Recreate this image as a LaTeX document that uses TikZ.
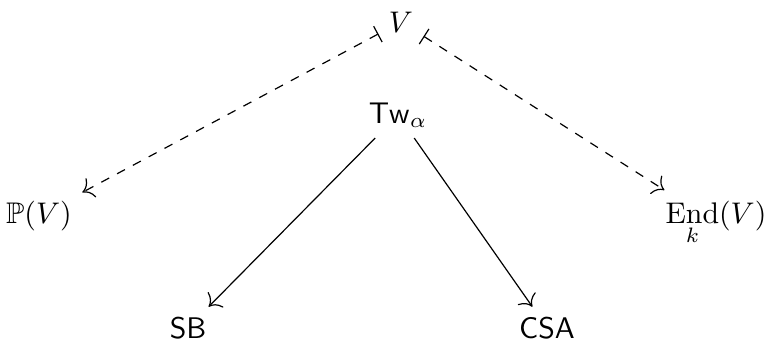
\documentclass[tikz,border=0pt]{standalone}
\usepackage{amsmath,amssymb}
\usetikzlibrary{arrows.meta}
\begin{document}
\begin{tikzpicture}[x=0.335pt,y=-0.335pt,
  obj/.style={anchor=base,inner sep=0.3333em},
  mapsarrow/.style={dashed,{Bar[width=6pt]}-{To[scale=1.4]}},
  plainarrow/.style={-{To[scale=1.4]}}]
\useasboundingbox (0,0) rectangle (765,345);
\node[obj] (V) at (401,32) {$V$};
\node[obj] (P) at (39,223) {$\mathbb{P}(V)$};
\node[obj] (E) at (716,223) {$\underset{k}{\mathrm{End}}(V)$};
\node[obj] (T) at (398,123) {$\mathsf{Tw}_\alpha$};
\node[obj] (S) at (188,338) {$\mathsf{SB}$};
\node[obj] (C) at (547,338) {$\mathsf{CSA}$};
\draw[mapsarrow] (V) -- (P);
\draw[mapsarrow] (V) -- (E);
\draw[plainarrow] (T) -- (S);
\draw[plainarrow] (T) -- (C);
\end{tikzpicture}
\end{document}
